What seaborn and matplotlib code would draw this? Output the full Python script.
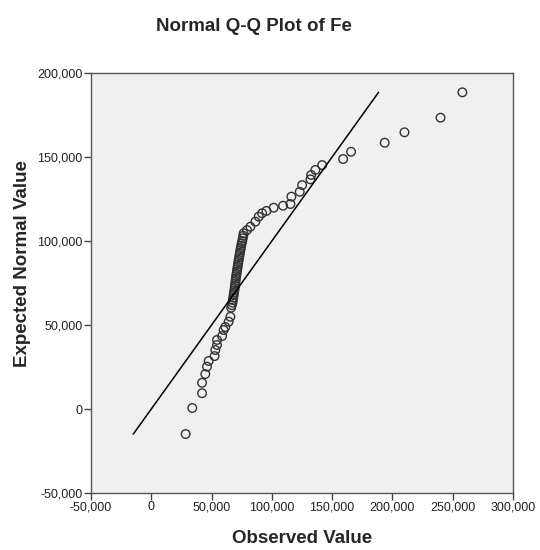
import numpy as np
import matplotlib
matplotlib.use("Agg")
from matplotlib import pyplot as plt
from matplotlib.ticker import FuncFormatter
import seaborn as sns

observed = [28500, 34000, 42100, 42100, 44800, 46200, 47600, 52500, 53100, 54500,
            54500, 58700, 60000, 61400, 64200, 65600,
            66200, 66800, 67300, 67700, 68000, 68300, 68600, 68900, 69200, 69400,
            69700, 69900, 70100, 70400, 70700, 71000, 71300, 71600, 71900, 72200,
            72500, 72900, 73200, 73500, 73900, 74200, 74600, 75000, 75400, 75900,
            76300,
            76600, 79400, 82200, 86300, 89100, 91900, 95500, 101500, 109300, 115400,
            116200, 123100, 125100, 132000, 132600, 136100, 141700, 159100, 165700,
            193600, 210000, 239900, 258000]
expected = [-14900, 600, 9400, 15600, 20800, 25200, 28600, 31500, 35100, 38100,
            41100, 43400, 47000, 48800, 52000, 54900,
            60300, 61800, 63300, 64800, 66300, 67800, 69200, 70600, 72000, 73400,
            74800, 76200, 77600, 79000, 80400, 81800, 83200, 84600, 86000, 87400,
            88800, 90200, 91600, 93000, 94400, 95800, 97200, 98600, 100000, 101600,
            103100,
            104600, 106500, 108500, 111500, 114500, 116500, 117900, 119800, 121000, 122000,
            126400, 129300, 133300, 136700, 139300, 142300, 145200, 148800, 153100,
            158500, 164700, 173400, 188500]
ref_line = [-14900, 188500]

x_ticks = [-50000, 0, 50000, 100000, 150000, 200000, 250000, 300000]
y_ticks = [-50000, 0, 50000, 100000, 150000, 200000]

sns.set_style("white")
plt.rcParams['font.family'] = ['Liberation Sans', 'DejaVu Sans']

fig = plt.figure(figsize=(5.4, 5.5), dpi=100)
ax = fig.add_axes([0.1685, 0.1036, 0.7815, 0.7637])
ax.set_facecolor('#f0f0f0')

sns.lineplot(x=ref_line, y=ref_line, color='black', linewidth=1.1, ax=ax)
sns.scatterplot(x=observed, y=expected, marker='o', s=38, facecolors='none',
                edgecolor='#333333', linewidth=1.0, ax=ax)

ax.set_xlim(-50000, 300000)
ax.set_ylim(-50000, 200000)
ax.set_xticks(x_ticks)
ax.set_yticks(y_ticks)
fmt = FuncFormatter(lambda v, p: f"{v:,.0f}")
ax.xaxis.set_major_formatter(fmt)
ax.yaxis.set_major_formatter(fmt)
ax.tick_params(axis='both', direction='out', length=5, width=1, color='#444444',
               labelsize=9, labelcolor='#222222', bottom=True, left=True, pad=1)
for sp in ax.spines.values():
    sp.set_color('#555555')
    sp.set_linewidth(1.0)

ax.set_xlabel('Observed Value', fontsize=13.5, fontweight='bold', labelpad=12)
ax.set_ylabel('Expected Normal Value', fontsize=13.5, fontweight='bold')
ax.yaxis.set_label_coords(-0.142, 0.546)
fig.text(0.47, 0.952, 'Normal Q-Q Plot of Fe', ha='center', va='center',
         fontsize=13.5, fontweight='bold')

fig.savefig('out.png', dpi=100)
